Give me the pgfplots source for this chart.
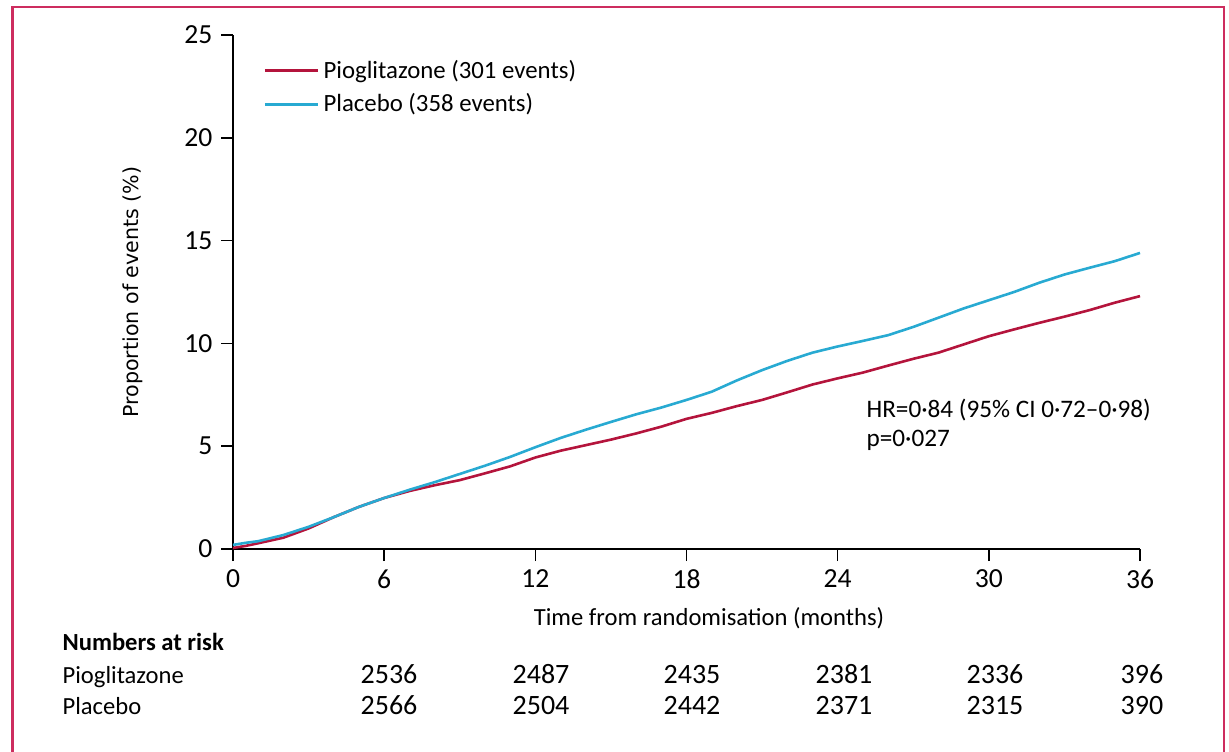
\documentclass[border=0pt]{standalone}
\usepackage{fontspec}
\setmainfont{Carlito}
\newfontfamily\dejavu{DejaVu Sans}
\usepackage{pgfplots}
\pgfplotsset{compat=1.18}
\definecolor{framec}{RGB}{205,45,95}
\definecolor{piog}{RGB}{180,20,60}
\definecolor{plac}{RGB}{40,170,210}
\pgfplotstableread{
t p
0 0.05
0.5 0.15
1 0.28
2 0.55
3 1.0
4 1.55
5 2.05
6 2.48
7 2.82
8 3.1
9 3.35
10 3.68
11 4.02
12 4.45
13 4.78
14 5.05
15 5.32
16 5.62
17 5.95
18 6.33
19 6.62
20 6.95
21 7.25
22 7.62
23 8.0
24 8.3
25 8.58
26 8.92
27 9.25
28 9.55
29 9.95
30 10.35
31 10.68
32 11.0
33 11.3
34 11.62
35 11.98
36 12.3
}\piogdata
\pgfplotstableread{
t p
0 0.2
0.5 0.3
1 0.38
2 0.68
3 1.08
4 1.55
5 2.05
6 2.48
7 2.88
8 3.25
9 3.65
10 4.05
11 4.48
12 4.95
13 5.4
14 5.8
15 6.18
16 6.55
17 6.88
18 7.25
19 7.65
20 8.2
21 8.7
22 9.15
23 9.55
24 9.85
25 10.12
26 10.4
27 10.8
28 11.25
29 11.7
30 12.1
31 12.5
32 12.95
33 13.35
34 13.68
35 14.0
36 14.4
}\placdata
\begin{document}
\fontsize{12.3}{14}\selectfont
\begin{tikzpicture}[x=1pt,y=1pt]
\useasboundingbox (0pt,0pt) rectangle (614.5pt,375.5pt);
\draw[framec, line width=1.2pt] (6.25pt,-3pt) -- (6.25pt,372pt) -- (612pt,372pt) -- (612pt,-3pt);
\begin{axis}[
  at={(116.5pt,101pt)}, anchor=south west,
  scale only axis, width=453.5pt, height=257pt,
  xmin=0, xmax=36, ymin=0, ymax=25,
  xtick={0,6,...,36}, ytick={0,5,...,25},
  axis x line*=bottom, axis y line*=left,
  tick align=outside, major tick length=6pt,
  axis line style={line width=0.8pt, black},
  tick style={line width=0.8pt, black},
  ticklabel style={font=\fontsize{13.8}{15}\selectfont},
  /pgf/number format/assume math mode=true,
  clip=false,
  legend style={at={(0.033,0.96)}, anchor=north west, draw=none, fill=none,
    font=\fontsize{12.4}{14}\selectfont, row sep=2pt, inner sep=0pt,
    nodes={inner sep=2pt}},
  legend cell align=left,
  legend image code/.code={\draw[#1, line width=1.6pt] (0pt,0pt) -- (26.5pt,0pt);},
]
\addplot[piog, line width=1.3pt, line join=round] table[x=t,y=p] {\piogdata};
\addlegendentry{Pioglitazone (301 events)}
\addplot[plac, line width=1.3pt, line join=round] table[x=t,y=p] {\placdata};
\addlegendentry{Placebo (358 events)}
\end{axis}
\node[rotate=90, font=\dejavu\fontsize{10.3}{12}\selectfont] at (66.5pt,229.5pt) {Proportion of events (\%)};
\node at (354.5pt,66.5pt) {Time from randomisation (months)};
\node[anchor=base west, font=\bfseries\fontsize{12.3}{14}\selectfont] at (27pt,50.5pt) {Numbers at risk};
\node[anchor=base west] at (27pt,34pt) {Pioglitazone};
\node[anchor=base west] at (27pt,18.5pt) {Placebo};
\foreach \xx/\a/\b in {194.5/2536/2566, 270.5/2487/2504, 346/2435/2442, 422/2381/2371, 497.5/2336/2315, 571/396/390}{
  \node[anchor=base, font=\fontsize{14}{16}\selectfont] at (\xx pt,34pt) {\a};
  \node[anchor=base, font=\fontsize{14}{16}\selectfont] at (\xx pt,18.5pt) {\b};
}
\node[anchor=west, font=\fontsize{12.6}{14}\selectfont] at (429pt,170.5pt) {HR=0·84 (95\% CI 0·72–0·98)};
\node[anchor=west, font=\fontsize{12.6}{14}\selectfont] at (429pt,155.5pt) {p=0·027};
\end{tikzpicture}
\end{document}
